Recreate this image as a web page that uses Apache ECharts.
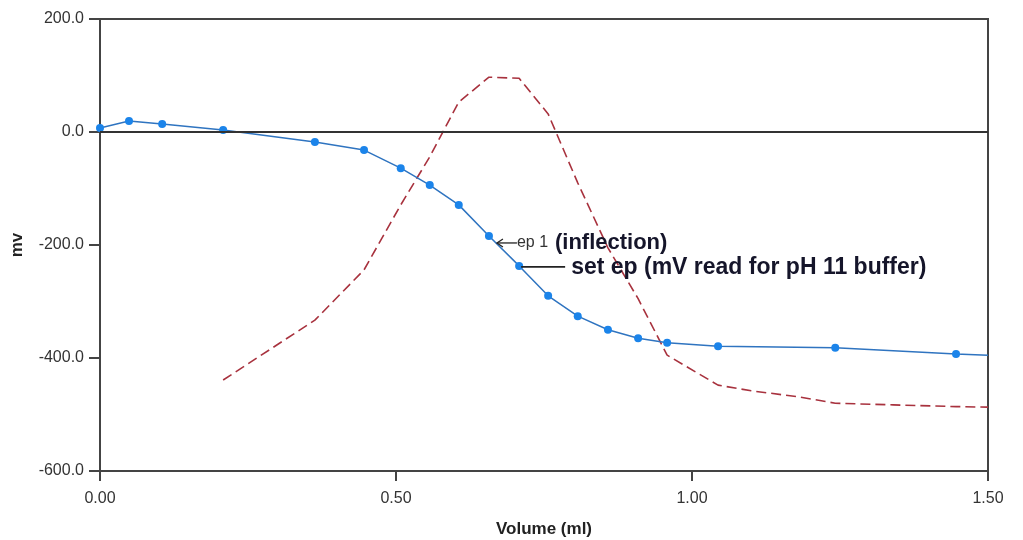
<!DOCTYPE html>
<html>
<head>
<meta charset="utf-8">
<script src="https://cdn.jsdelivr.net/npm/echarts@6/dist/echarts.min.js"></script>
<style>
html,body{margin:0;padding:0;background:#fff;}
#chart{width:1023px;height:540px;}
</style>
</head>
<body>
<div id="chart"></div>
<script>
// Titration curve (mV vs volume) - measured points
const volume = [0, 0.049, 0.105, 0.208, 0.363, 0.446, 0.508, 0.557, 0.606, 0.657, 0.708, 0.757, 0.807, 0.858, 0.909, 0.958, 1.044, 1.242, 1.446];
const mV = [7, 19.5, 14, 3.5, -17.7, -32, -64, -94, -129, -184, -237, -290, -326, -350, -365, -373, -379, -382, -393];
// the curve continues, without a marker, to the end of the axis
const tailVolume = [1.5];
const tailMv = [-395];

// First derivative curve (dashed)
const derivVolume = [0.208, 0.363, 0.446, 0.508, 0.557, 0.606, 0.657, 0.708, 0.757, 0.807, 0.858, 0.909, 0.958, 1.044, 1.10, 1.182, 1.242, 1.34, 1.446, 1.5];
const derivMv = [-439, -333, -244, -129, -44, 53, 97, 95, 32, -90, -205, -295, -395, -448, -458, -469, -480, -483, -486, -487];

// Axis ticks
const xTicks = [0, 0.5, 1.0, 1.5];
const yTicks = [-600, -400, -200, 0, 200];

// Annotations (index of the point they refer to)
const ep1Index = 9;
const setEpIndex = 10;
const ep1Label = 'ep 1';
const ep1Note = '(inflection)';
const setEpLabel = 'set ep (mV read for pH 11 buffer)';

const chart = echarts.init(document.getElementById('chart'));

const mainData = volume.map((v, i) => [v, mV[i]]);
tailVolume.forEach((v, i) => mainData.push({ value: [v, tailMv[i]], symbolSize: 0 }));
const derivData = derivVolume.map((v, i) => [v, derivMv[i]]);

const axisColor = '#444';
const labelFont = 'Liberation Sans, Arial, sans-serif';

const option = {
  animation: false,
  backgroundColor: '#fff',
  grid: {
    left: 100, right: 35, top: 19, bottom: 69,
    containLabel: false, outerBoundsMode: 'none',
    show: true, borderColor: axisColor, borderWidth: 2, backgroundColor: 'transparent'
  },
  xAxis: {
    type: 'value',
    min: xTicks[0], max: xTicks[xTicks.length - 1], interval: 0.5,
    name: 'Volume (ml)', nameLocation: 'middle', nameGap: 50,
    nameTextStyle: { fontFamily: labelFont, fontWeight: 'bold', fontSize: 17, color: '#222' },
    axisLine: { show: true, onZero: false, lineStyle: { color: axisColor, width: 2 } },
    axisTick: { show: true, length: 10, lineStyle: { color: axisColor, width: 2 } },
    axisLabel: { margin: 20, fontFamily: labelFont, fontSize: 16, color: '#333',
      formatter: v => v.toFixed(2) },
    splitLine: { show: false }
  },
  yAxis: {
    type: 'value',
    min: yTicks[0], max: yTicks[yTicks.length - 1], interval: 200,
    name: 'mv', nameLocation: 'middle', nameGap: 74,
    nameTextStyle: { fontFamily: labelFont, fontWeight: 'bold', fontSize: 17, color: '#222' },
    axisLine: { show: true, onZero: false, lineStyle: { color: axisColor, width: 2 } },
    axisTick: { show: true, length: 11, lineStyle: { color: axisColor, width: 2 } },
    axisLabel: { margin: 16, fontFamily: labelFont, fontSize: 16, color: '#333',
      formatter: v => v.toFixed(1) },
    splitLine: { show: false }
  },
  series: [
    {
      name: 'derivative', type: 'line', data: derivData,
      showSymbol: false, symbol: 'none',
      lineStyle: { color: '#a8323e', width: 1.6, type: [10, 5] },
      z: 2,
      markLine: {
        silent: true, symbol: 'none', animation: false,
        label: { show: false },
        lineStyle: { color: '#333', width: 2, type: 'solid' },
        data: [{ yAxis: 0 }]
      }
    },
    {
      name: 'mV', type: 'line', data: mainData,
      symbol: 'circle', symbolSize: 8,
      itemStyle: { color: '#1b84ea' },
      lineStyle: { color: '#2f74c0', width: 1.5 },
      z: 3
    }
  ]
};
chart.setOption(option);

// annotation graphics positioned through the chart's own scale
const pEp1 = chart.convertToPixel({ gridIndex: 0 }, [volume[ep1Index], mV[ep1Index]]);
const pSet = chart.convertToPixel({ gridIndex: 0 }, [volume[setEpIndex], mV[setEpIndex]]);

const ay = pEp1[1] + 7;
const ax0 = pEp1[0] + 8;
chart.setOption({
  graphic: [
    { type: 'line', shape: { x1: ax0, y1: ay, x2: ax0 + 20, y2: ay },
      style: { stroke: '#222', lineWidth: 1.3 }, z: 10 },
    { type: 'polyline', shape: { points: [[ax0 + 6, ay - 4], [ax0, ay], [ax0 + 6, ay + 4]] },
      style: { stroke: '#222', lineWidth: 1.3, fill: null }, z: 10 },
    { type: 'text', x: pEp1[0] + 28, y: ay,
      style: { text: ep1Label, font: '16px ' + labelFont, fill: '#333', verticalAlign: 'middle', align: 'left' }, z: 10 },
    { type: 'text', x: pEp1[0] + 66, y: ay,
      style: { text: ep1Note, font: 'bold 22px ' + labelFont, fill: '#15152a', verticalAlign: 'middle', align: 'left' }, z: 10 },
    { type: 'line', shape: { x1: pSet[0] + 2, y1: pSet[1] + 1, x2: pSet[0] + 46, y2: pSet[1] + 1 },
      style: { stroke: '#222', lineWidth: 1.6 }, z: 10 },
    { type: 'text', x: pSet[0] + 52, y: pSet[1] + 2,
      style: { text: setEpLabel, font: 'bold 23px ' + labelFont, fill: '#15152a', verticalAlign: 'middle', align: 'left' }, z: 10 }
  ]
});
</script>
</body>
</html>
